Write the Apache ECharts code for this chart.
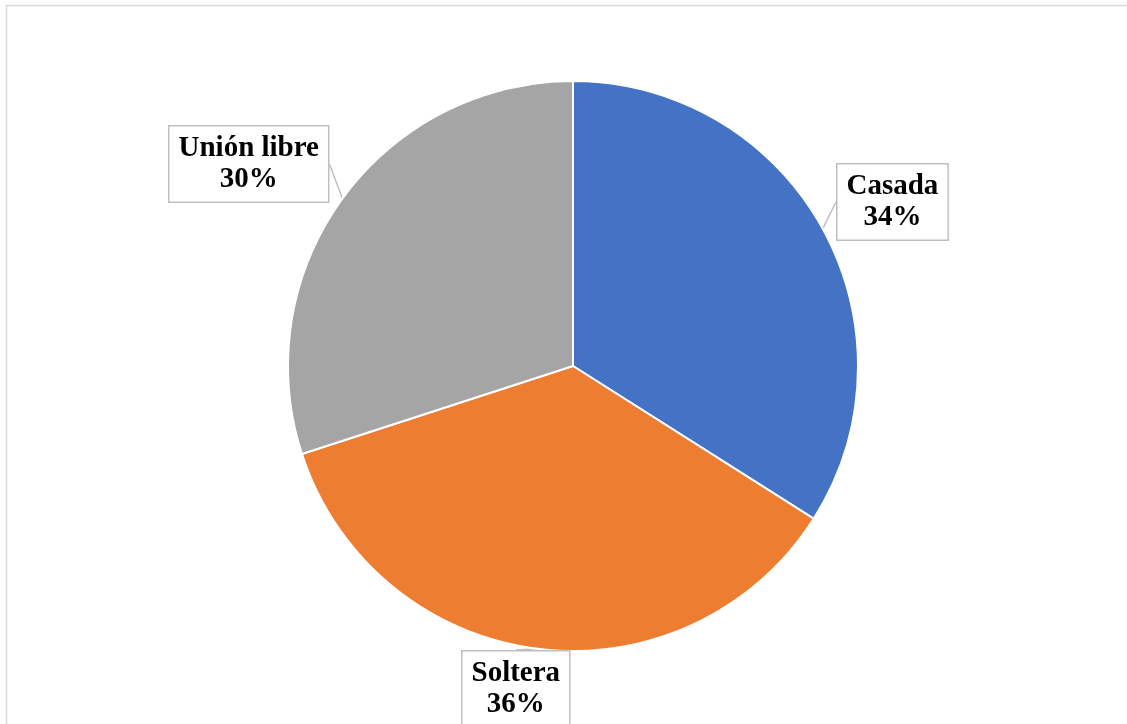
<!DOCTYPE html>
<html>
<head>
<meta charset="utf-8">
<script src="https://cdn.jsdelivr.net/npm/echarts@6/dist/echarts.min.js"></script>
<style>
  html, body { margin: 0; padding: 0; background: #fff; }
  #chart { width: 1127px; height: 724px; }
</style>
</head>
<body>
<div id="chart"></div>
<script>
// Estado civil: categories and shares (percent)
const categories = ['Casada', 'Soltera', 'Unión libre'];
const shares = [34, 36, 30];
const colors = ['#4472C4', '#ED7D31', '#A5A5A5'];

// Label box placements (top-left corner) for each slice
const labelSpots = [
  { x: 836, y: 163 },
  { x: 461, y: 650 },
  { x: 168, y: 125 }
];

const chart = echarts.init(document.getElementById('chart'));

chart.setOption({
  animation: false,
  graphic: [{
    type: 'rect',
    shape: { x: 6.5, y: 5.5, width: 1140, height: 740 },
    style: { fill: 'none', stroke: '#d9d9d9', lineWidth: 1.5 },
    silent: true
  }],
  series: [{
    type: 'pie',
    center: [573, 366],
    radius: ['0%', 285],
    startAngle: 90,
    clockwise: true,
    data: categories.map((name, i) => ({
      name,
      value: shares[i],
      itemStyle: { color: colors[i] }
    })),
    itemStyle: { borderColor: '#fff', borderWidth: 2 },
    label: {
      show: true,
      position: 'outside',
      formatter: p => p.name + '\n' + p.value + '%',
      fontFamily: '"Liberation Serif", "Times New Roman", serif',
      fontWeight: 'bold',
      fontSize: 29,
      lineHeight: 31,
      color: '#000',
      align: 'center',
      backgroundColor: '#fff',
      borderColor: '#bfbfbf',
      borderWidth: 1.5,
      padding: [6, 9, 7, 9]
    },
    labelLine: {
      show: true,
      length: 6,
      length2: 0,
      lineStyle: { color: '#bfbfbf', width: 1.5 }
    },
    labelLayout: params => {
      const s = labelSpots[params.dataIndex];
      return {
        x: s.x + params.labelRect.width / 2,
        y: s.y + params.labelRect.height / 2,
        align: 'center',
        verticalAlign: 'middle'
      };
    }
  }]
});
</script>
</body>
</html>
